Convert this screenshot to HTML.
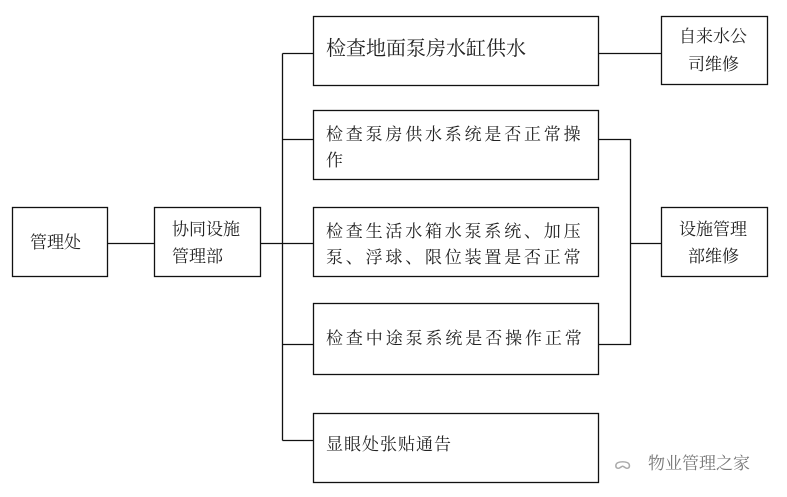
<!DOCTYPE html>
<html><head><meta charset="utf-8"><style>
html,body{margin:0;padding:0;background:#fff;width:787px;height:497px;overflow:hidden}
text{font-family:"Noto Serif CJK SC","Liberation Serif",serif;fill:#222}
</style></head><body>
<svg width="787" height="497" xmlns="http://www.w3.org/2000/svg">
<g fill="none" stroke="#111" stroke-width="1.3">
<rect x="12.5" y="207.5" width="95" height="69"/>
<rect x="154.5" y="207.5" width="106" height="69"/>
<rect x="313.5" y="16.5" width="285" height="69"/>
<rect x="313.5" y="110.5" width="285" height="69"/>
<rect x="313.5" y="207.5" width="285" height="69"/>
<rect x="313.5" y="303.5" width="285" height="71"/>
<rect x="313.5" y="413.5" width="285" height="69"/>
<rect x="661.5" y="16.5" width="106" height="68"/>
<rect x="661.5" y="207.5" width="106" height="69"/>
<path d="M107.5 243.5H154.5 M260.5 243.5H282.5 M282.5 53.5V440.5 M282.5 53.5H313.5 M282.5 139.5H313.5 M282.5 243.5H313.5 M282.5 344.5H313.5 M282.5 440.5H313.5 M598.5 53.5H661.5 M598.5 139.5H630.5V344.5H598.5 M630.5 243.5H661.5"/>
</g>
<g font-size="17">
<text x="30" y="248">管理处</text>
<text x="172" y="235">协同设施</text>
<text x="172" y="262">管理部</text>
<text x="326" y="55" font-size="20">检查地面泵房水缸供水</text>
<text x="326" y="140" letter-spacing="2.8">检查泵房供水系统是否正常操</text>
<text x="326" y="166">作</text>
<text x="326" y="237" letter-spacing="2.8">检查生活水箱水泵系统、加压</text>
<text x="326" y="263" letter-spacing="2.8">泵、浮球、限位装置是否正常</text>
<text x="326" y="344" letter-spacing="2.9">检查中途泵系统是否操作正常</text>
<text x="326" y="450" letter-spacing="1">显眼处张贴通告</text>
<text x="679" y="42">自来水公</text>
<text x="688" y="70">司维修</text>
<text x="679" y="235">设施管理</text>
<text x="688" y="262">部维修</text>
</g>
<text x="648" y="469" font-size="17" style="fill:#777">物业管理之家</text>
<text x="614" y="469" font-size="16" style="fill:#aaa">ᯅ</text>
</svg>
</body></html>
